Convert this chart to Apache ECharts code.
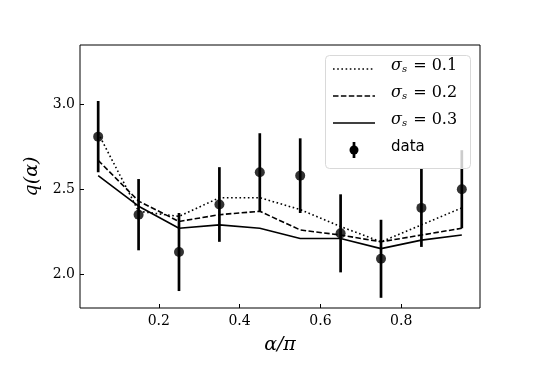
<!DOCTYPE html>
<html>
<head>
<meta charset="utf-8">
<script src="https://cdn.jsdelivr.net/npm/echarts@6/dist/echarts.min.js"></script>
<style>
  html, body { margin: 0; padding: 0; background: #fff; }
  #chart { width: 534px; height: 376px; }
</style>
</head>
<body>
<div id="chart"></div>
<script>
// alpha / pi positions
const alphas = [0.05, 0.15, 0.25, 0.35, 0.45, 0.55, 0.65, 0.75, 0.85, 0.95]
// measured q(alpha) with error
const dataQ = [2.81, 2.35, 2.13, 2.41, 2.60, 2.58, 2.24, 2.09, 2.39, 2.50]
const dataErr = [0.21, 0.21, 0.23, 0.22, 0.23, 0.22, 0.23, 0.23, 0.23, 0.23]
// model curves
const sigma01 = [2.83, 2.37, 2.34, 2.45, 2.45, 2.38, 2.28, 2.19, 2.29, 2.39]
const sigma02 = [2.67, 2.43, 2.31, 2.35, 2.37, 2.26, 2.23, 2.19, 2.23, 2.27]
const sigma03 = [2.58, 2.40, 2.27, 2.29, 2.27, 2.21, 2.21, 2.15, 2.20, 2.23]
// tick labels
const xTicks = [0.2, 0.4, 0.6, 0.8]
const yTicks = [2.0, 2.5, 3.0]

const serif = 'DejaVu Serif'
const zip = (ys) => alphas.map((x, i) => [x, ys[i]])

const chart = echarts.init(document.getElementById('chart'))

const lineSeries = (name, ys, type) => ({
  name: name,
  type: 'line',
  data: zip(ys),
  symbol: 'none',
  silent: true,
  animation: false,
  lineStyle: { color: '#000', width: 1.6, type: type },
  z: 2
})

// legend, drawn on top of the plot like matplotlib's
const legendLeft = 325
const legendTop = 55
const rowGap = 27
const legendRows = ['0.1', '0.2', '0.3']
const dashTypes = [[1.6, 2.6], [5.5, 2.4], 'solid']

const legendGraphics = [
  {
    type: 'rect',
    left: legendLeft,
    top: legendTop,
    shape: { width: 145, height: 113, r: 4 },
    style: { fill: 'rgba(255,255,255,0.8)', stroke: '#d9d9d9', lineWidth: 1 },
    z: 100
  }
]
legendRows.forEach((v, i) => {
  const y = legendTop + 14 + i * rowGap
  legendGraphics.push({
    type: 'line',
    shape: { x1: legendLeft + 8, y1: y, x2: legendLeft + 50, y2: y },
    style: { stroke: '#000', lineWidth: 1.6, lineDash: dashTypes[i] === 'solid' ? null : dashTypes[i] },
    z: 101
  })
  legendGraphics.push({
    type: 'text',
    left: legendLeft + 66,
    top: y - 11,
    style: {
      text: '{a|σ}{s|s}{b| = ' + v + '}',
      rich: {
        a: { fontFamily: serif, fontStyle: 'italic', fontSize: 16, fill: '#000' },
        s: { fontFamily: serif, fontStyle: 'italic', fontSize: 10, fill: '#000', padding: [6, 1, 0, 0] },
        b: { fontFamily: serif, fontSize: 16, fill: '#000' }
      }
    },
    z: 101
  })
})
const dataRowY = legendTop + 14 + 3 * rowGap
legendGraphics.push(
  {
    type: 'line',
    shape: { x1: legendLeft + 29, y1: dataRowY - 8, x2: legendLeft + 29, y2: dataRowY + 8 },
    style: { stroke: '#000', lineWidth: 2.7 },
    z: 101
  },
  {
    type: 'circle',
    shape: { cx: legendLeft + 29, cy: dataRowY, r: 4.5 },
    style: { fill: '#000' },
    z: 101
  },
  {
    type: 'text',
    left: legendLeft + 66,
    top: dataRowY - 10,
    style: { text: 'data', fontFamily: 'DejaVu Sans', fontSize: 15, fill: '#000' },
    z: 101
  }
)

chart.setOption({
  animation: false,
  backgroundColor: '#fff',
  grid: {
    left: 80,
    right: 54,
    top: 45,
    bottom: 68,
    show: true,
    borderColor: '#000',
    borderWidth: 1,
    backgroundColor: 'transparent'
  },
  xAxis: {
    type: 'value',
    min: 0.005,
    max: 0.995,
    name: 'α/π',
    nameLocation: 'middle',
    nameGap: 28,
    nameTextStyle: { fontFamily: serif, fontStyle: 'italic', fontSize: 19, color: '#000' },
    axisLine: { show: false },
    axisTick: { show: true, inside: true, length: 4, customValues: xTicks, lineStyle: { color: '#000' } },
    axisLabel: { customValues: xTicks, fontFamily: serif, fontSize: 14, color: '#000', margin: 6, formatter: (v) => v.toFixed(1) },
    splitLine: { show: false }
  },
  yAxis: {
    type: 'value',
    min: 1.8,
    max: 3.35,
    name: 'q(α)',
    nameLocation: 'middle',
    nameGap: 34,
    nameTextStyle: { fontFamily: serif, fontStyle: 'italic', fontSize: 19, color: '#000' },
    axisLine: { show: false },
    axisTick: { show: true, inside: true, length: 4, customValues: yTicks, lineStyle: { color: '#000' } },
    axisLabel: { customValues: yTicks, fontFamily: serif, fontSize: 14, color: '#000', margin: 5, formatter: (v) => v.toFixed(1) },
    splitLine: { show: false }
  },
  graphic: legendGraphics,
  series: [
    lineSeries('σs = 0.1', sigma01, [1.6, 2.6]),
    lineSeries('σs = 0.2', sigma02, [5.5, 2.4]),
    lineSeries('σs = 0.3', sigma03, 'solid'),
    {
      name: 'data',
      type: 'custom',
      silent: true,
      data: alphas.map((x, i) => [x, dataQ[i], dataErr[i]]),
      renderItem: (params, api) => {
        const x = api.value(0)
        const y = api.value(1)
        const e = api.value(2)
        const lo = api.coord([x, y - e])
        const hi = api.coord([x, y + e])
        return {
          type: 'line',
          shape: { x1: lo[0], y1: lo[1], x2: hi[0], y2: hi[1] },
          style: { stroke: '#000', lineWidth: 2.7 }
        }
      },
      z: 3
    },
    {
      name: 'data',
      type: 'scatter',
      silent: true,
      data: zip(dataQ),
      symbol: 'circle',
      symbolSize: 10,
      itemStyle: { color: '#000' },
      z: 4
    }
  ]
})
</script>
</body>
</html>
